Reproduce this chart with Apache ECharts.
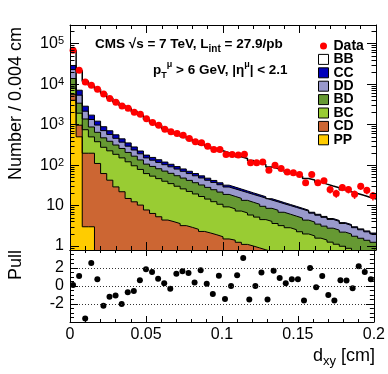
<!DOCTYPE html>
<html>
<head>
<meta charset="utf-8">
<title>dxy fit</title>
<script src="https://cdn.jsdelivr.net/npm/echarts@6/dist/echarts.min.js"></script>
<style>
  html, body { margin: 0; padding: 0; background: #fff; }
  #chart { width: 388px; height: 374px; }
</style>
</head>
<body>
<div id="chart"></div>
<script>
// 50 bins of 0.004 cm from 0 to 0.2
const binWidth = 0.004;

// stacked MC components, per bin
const bb = [40000, 14700, 8940, 7480, 6180, 4960, 3790, 3090, 2530, 2190, 1800, 1520, 1180, 945, 804, 661, 565, 488, 425, 359,
  308, 271, 240, 214, 189, 170, 153, 136, 123, 109, 96.5, 86.4, 75.2, 68.7, 62.1, 55.3, 49.4, 44.4, 39.3, 36.2,
  31.9, 28.6, 25.7, 23.2, 20.7, 18.6, 17, 15.3, 13.8, 12.4];
const cc = [6000, 1750, 710, 380, 244, 178, 134, 101, 76, 60, 45, 33, 26, 22.6, 19.3, 16.4, 14.2, 12.1, 10.2, 8.7,
  7.4, 6.2, 5.3, 4.5, 3.8, 3.2, 2.8, 2.4, 2.0, 1.75, 1.5, 1.28, 1.08, 0.92, 0.78, 0.66, 0.56, 0.46, 0.39, 0.34,
  0.31, 0.27, 0.24, 0.22, 0.19, 0.17, 0.15, 0.13, 0.12, 0.1];
const dd = [9200, 1960, 770, 464, 329, 240, 184, 146, 112, 88, 70, 56, 45, 39.5, 35.2, 31.4, 28.1, 25.1, 22.4, 19.9,
  17.8, 15.8, 14.1, 12.6, 11.2, 9.9, 9.0, 8.2, 7.5, 6.8, 6.2, 5.7, 5.15, 4.7, 4.26, 3.9, 3.54, 3.22, 2.93, 2.59,
  2.3, 2.02, 1.79, 1.6, 1.4, 1.25, 1.1, 0.97, 0.86, 0.76];
const bd = [5800, 1470, 630, 378, 268, 196, 163, 129, 107, 85, 70, 56, 44, 39.4, 35.1, 31.2, 27.8, 24.7, 22, 19.6,
  17.4, 15.5, 13.7, 12.2, 10.8, 9.6, 8.6, 7.8, 6.9, 6.2, 5.6, 5.1, 4.5, 4.07, 3.65, 3.3, 2.96, 2.66, 2.39, 2.14,
  1.92, 1.7, 1.52, 1.37, 1.22, 1.1, 0.98, 0.87, 0.78, 0.69];
const bc = [2500, 950, 553, 301, 269, 214, 183, 156, 129, 106, 84, 68, 54, 47.1, 41.1, 35.6, 30.9, 26.5, 22.7, 19.5,
  16.8, 14.5, 12.4, 10.6, 9.1, 7.8, 6.9, 6.1, 5.5, 4.85, 4.3, 3.7, 3.34, 2.95, 2.6, 2.31, 2.06, 1.83, 1.6, 1.43,
  1.25, 1.13, 1.0, 0.88, 0.79, 0.7, 0.61, 0.54, 0.48, 0.43];
const cd = [1500, 470, 194, 194, 110, 62, 42.5, 29, 22, 15, 12.4, 10.3, 7.8, 6.4, 5.3, 4.4, 4.0, 3.6, 3.2, 2.9,
  2.6, 2.3, 2.1, 1.9, 1.7, 1.5, 1.4, 1.24, 1.1, 1.0, 0.9, 0.81, 0.73, 0.66, 0.6, 0.53, 0.48, 0.43, 0.39, 0.35,
  0.32, 0.28, 0.25, 0.23, 0.2, 0.18, 0.16, 0.15, 0.13, 0.12];
const pp = [4000, 500, 3, 3, 0, 0, 0, 0, 0, 0, 0, 0, 0, 0, 0, 0, 0, 0, 0, 0,
  0, 0, 0, 0, 0, 0, 0, 0, 0, 0, 0, 0, 0, 0, 0, 0, 0, 0, 0, 0,
  0, 0, 0, 0, 0, 0, 0, 0, 0, 0];

// measured counts
const dataCounts = [69000, 22000, 11400, 9400, 7500, 5700, 4400, 3600, 2900, 2550, 2040, 1800, 1400, 1130, 973, 774, 664, 606, 551, 456,
  376, 355, 294, 244, 244, 184, 184, 177, 187, 114, 114, 120, 75, 100, 83, 68, 65, 59, 36.5, 59,
  36.5, 41, 25, 20, 28, 25, 19, 30, 24, 17.5];

// (data - fit) / error
const pulls = [0.1, 1.1, -3.6, 2.55, 0.75, -2.2, -1.2, -1.05, -2.0, -0.7, -0.55, 0.65, 1.85, 1.55, 0.8, 0.3, -0.3, 1.35, 1.65, 1.45,
  0.4, 1.75, 0.25, -0.9, 1.15, -1.45, 0, 1.2, 3.1, -1.5, 0, 1.5, -1.5, 1.7, 0.9, 0.3, 0.75, 0.75, -1.6, 2.0,
  -0.15, 1.1, -1.0, -1.6, 0.65, 0.6, -0.25, 2.2, 1.55, 0.75];

const xTicks = [0, 0.05, 0.1, 0.15, 0.2];
const yMajor = [1, 10, 100, 1000, 10000, 100000];

const FONT = 'Liberation Sans';
const chart = echarts.init(document.getElementById('chart'));

// bottom to top
const layers = [
  { name: 'PP', values: pp, color: '#ffcc00' },
  { name: 'CD', values: cd, color: '#cc6633' },
  { name: 'BC', values: bc, color: '#99cc33' },
  { name: 'BD', values: bd, color: '#669933' },
  { name: 'DD', values: dd, color: '#9999cc' },
  { name: 'CC', values: cc, color: '#0000bb' },
  { name: 'BB', values: bb, color: '#ffffff' }
];
let running = bb.map(() => 0);
layers.forEach(l => {
  running = running.map((s, i) => s + l.values[i]);
  l.top = running.slice();
});

function stepPoints(top) {
  const pts = top.map((v, i) => [i * binWidth, Math.max(v, 1e-3)]);
  pts.push([top.length * binWidth, Math.max(top[top.length - 1], 1e-3)]);
  return pts;
}

const yMinor = [];
for (let k = -1; k <= 5; k++) {
  for (let m = 2; m <= 9; m++) {
    const v = m * Math.pow(10, k);
    if (v >= 0.8 && v <= 2.9e5) yMinor.push(v);
  }
}

const tickLine = { color: '#000', width: 1 };
function xAxisDef(grid, pos, withLabels, major, minor) {
  return {
    type: 'value', gridIndex: grid, position: pos, min: 0, max: 0.2, interval: 0.05, z: 10,
    axisLine: { show: true, onZero: false, lineStyle: { color: '#000', width: 1 } },
    axisTick: { show: true, inside: true, length: major, lineStyle: tickLine },
    minorTick: { show: true, inside: true, splitNumber: 5, length: minor, lineStyle: tickLine },
    axisLabel: withLabels ? {
      show: true, fontFamily: FONT, fontSize: 16, color: '#000', margin: 5,
      customValues: xTicks
    } : { show: false },
    splitLine: { show: false }
  };
}
function logAxisDef(pos, ticks, len, withLabels, showLine) {
  return {
    type: 'log', gridIndex: 0, position: pos, min: 0.8, max: 2.9e5, z: 10,
    axisLine: { show: showLine, lineStyle: { color: '#000', width: 1 } },
    axisTick: { show: true, inside: true, length: len, customValues: ticks, lineStyle: tickLine },
    minorTick: { show: false },
    axisLabel: withLabels ? {
      show: true, customValues: yMajor, margin: 6, fontFamily: FONT, fontSize: 16, color: '#000',
      formatter: v => {
        if (v < 5) return '1';
        if (v < 50) return '10';
        return '10{sup|' + Math.round(Math.log10(v)) + '}';
      },
      rich: { sup: { fontFamily: FONT, fontSize: 11, color: '#000', verticalAlign: 'top', lineHeight: 12 } }
    } : { show: false },
    splitLine: { show: false }
  };
}
function pullAxisDef(pos, withLabels) {
  return {
    type: 'value', gridIndex: 1, position: pos, min: -4, max: 4, interval: 2, z: 10,
    axisLine: { show: true, onZero: false, lineStyle: { color: '#000', width: 1 } },
    axisTick: { show: true, inside: true, length: 8, lineStyle: tickLine },
    minorTick: { show: true, inside: true, splitNumber: 4, length: 4, lineStyle: tickLine },
    axisLabel: withLabels ? {
      show: true, margin: 6, fontFamily: FONT, fontSize: 16, color: '#000',
      formatter: v => (Math.abs(v) > 3 ? '' : String(v))
    } : { show: false },
    splitLine: withLabels ? { show: true, lineStyle: { color: '#333', type: [1, 2], width: 1 } } : { show: false }
  };
}

const histSeries = layers.slice().reverse().map(l => ({
  name: l.name, type: 'line', xAxisIndex: 0, yAxisIndex: 0,
  data: stepPoints(l.top), step: 'end', showSymbol: false, symbol: 'none',
  clip: true, silent: true, animation: false,
  itemStyle: { color: l.color },
  lineStyle: { color: '#000', width: l.name === 'BB' ? 1.5 : 1 },
  areaStyle: { color: l.color, opacity: 1, origin: 'start' },
  emphasis: { disabled: true }
}));

const centers = dataCounts.map((_, i) => (i + 0.5) * binWidth);

const option = {
  animation: false,
  backgroundColor: '#fff',
  grid: [
    { left: 70, top: 25, width: 306, height: 225, show: false },
    { left: 70, top: 250, width: 306, height: 72, show: false }
  ],
  xAxis: [
    xAxisDef(0, 'bottom', false, 8, 4),
    xAxisDef(0, 'top', false, 8, 4),
    xAxisDef(1, 'bottom', true, 6, 3),
    xAxisDef(1, 'top', false, 6, 3)
  ],
  yAxis: [
    logAxisDef('left', yMajor, 9, true, true),
    logAxisDef('left', yMinor, 4.5, false, false),
    logAxisDef('right', yMajor, 9, false, true),
    logAxisDef('right', yMinor, 4.5, false, false),
    pullAxisDef('left', true),
    pullAxisDef('right', false)
  ],
  legend: {
    left: 312, top: 34, orient: 'vertical', itemWidth: 10, itemHeight: 10, itemGap: -0.6,
    selectedMode: false,
    textStyle: { fontFamily: FONT, fontSize: 14, fontWeight: 'bold', color: '#000', lineHeight: 13 },
    data: [
      { name: 'Data', icon: 'circle', itemStyle: { color: '#ff0000', borderColor: '#fff', borderWidth: 3, opacity: 1 } },
      ...layers.slice().reverse().map(l => ({
        name: l.name, icon: 'rect',
        itemStyle: { color: l.color, borderColor: '#000', borderWidth: 1 }
      }))
    ]
  },
  graphic: [
    {
      type: 'text', x: 95, y: 44, z: 20,
      style: {
        text: '{b|CMS}{b| √s = 7 TeV, L}{s|int}{b| = 27.9/pb}',
        textVerticalAlign: 'middle',
        rich: {
          b: { fontFamily: FONT, fontSize: 13.5, fontWeight: 'bold', fill: '#000', lineHeight: 20 },
          s: { fontFamily: FONT, fontSize: 10, fontWeight: 'bold', fill: '#000', lineHeight: 12, verticalAlign: 'bottom' }
        }
      }
    },
    {
      type: 'text', x: 153, y: 70, z: 20,
      style: {
        text: '{b|p}{s|T}{u|μ}{b| > 6 GeV, |η}{u|μ}{b|| < 2.1}',
        textVerticalAlign: 'middle',
        rich: {
          b: { fontFamily: FONT, fontSize: 13.5, fontWeight: 'bold', fill: '#000', lineHeight: 20 },
          s: { fontFamily: FONT, fontSize: 9, fontWeight: 'bold', fill: '#000', lineHeight: 12, verticalAlign: 'bottom' },
          u: { fontFamily: FONT, fontSize: 9, fontWeight: 'bold', fill: '#000', lineHeight: 12, verticalAlign: 'top' }
        }
      }
    },
    {
      type: 'text', x: 16, y: 27, rotation: Math.PI / 2,
      style: { text: 'Number / 0.004 cm', font: '18px "Liberation Sans"', fill: '#000', textAlign: 'right', textVerticalAlign: 'middle' }
    },
    {
      type: 'text', x: 16, y: 250, rotation: Math.PI / 2,
      style: { text: 'Pull', font: '18px "Liberation Sans"', fill: '#000', textAlign: 'right', textVerticalAlign: 'middle' }
    },
    {
      type: 'text', x: 375, y: 356,
      style: {
        text: '{b|d}{s|xy}{b| [cm]}', textAlign: 'right', textVerticalAlign: 'middle',
        rich: {
          b: { fontFamily: FONT, fontSize: 18, fill: '#000', lineHeight: 24 },
          s: { fontFamily: FONT, fontSize: 13, fill: '#000', lineHeight: 14, verticalAlign: 'bottom' }
        }
      }
    }
  ],
  series: [
    ...histSeries,
    {
      name: 'errors', type: 'custom', xAxisIndex: 0, yAxisIndex: 0, clip: true, silent: true, z: 5,
      data: dataCounts.map((v, i) => [centers[i], v]),
      encode: { x: 0, y: 1 },
      renderItem: (params, api) => {
        const x = api.value(0), v = api.value(1), e = Math.sqrt(v);
        const a = api.coord([x, v - e]), b = api.coord([x, v + e]);
        return { type: 'line', shape: { x1: a[0], y1: a[1], x2: b[0], y2: b[1] }, style: { stroke: '#ff0000', lineWidth: 1.5 } };
      }
    },
    {
      name: 'Data', type: 'scatter', xAxisIndex: 0, yAxisIndex: 0, z: 6, silent: true,
      symbolSize: 7, itemStyle: { color: '#ff0000', opacity: 1 },
      data: dataCounts.map((v, i) => [centers[i], v])
    },
    {
      name: 'pull', type: 'scatter', xAxisIndex: 2, yAxisIndex: 4, silent: true,
      symbolSize: 6, itemStyle: { color: '#000', opacity: 1 },
      data: pulls.map((p, i) => [centers[i], p])
    }
  ]
};
chart.setOption(option);
window.onresize = function () { chart.resize(); };
</script>
</body>
</html>
